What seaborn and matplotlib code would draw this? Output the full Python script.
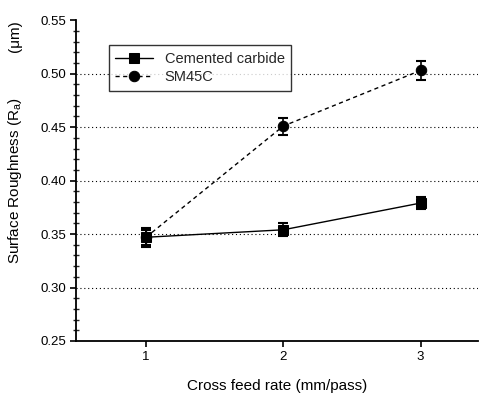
import matplotlib
matplotlib.use("Agg")
import matplotlib.pyplot as plt
import seaborn as sns
import pandas as pd
from matplotlib.ticker import MultipleLocator

sns.set_theme(style="white")
plt.rcParams['font.family'] = ['Liberation Sans', 'DejaVu Sans']
plt.rcParams['mathtext.default'] = 'regular'

feed_rate = [1, 2, 3]
carbide = [0.347, 0.354, 0.379]
carbide_err = [0.007, 0.006, 0.006]
sm45c = [0.347, 0.451, 0.503]
sm45c_err = [0.009, 0.008, 0.009]
series_names = ["Cemented carbide", "SM45C"]

df = pd.DataFrame({
    "feed": feed_rate * 2,
    "Ra": carbide + sm45c,
    "err": carbide_err + sm45c_err,
    "material": [series_names[0]] * 3 + [series_names[1]] * 3,
})

fig = plt.figure(figsize=(4.88, 3.96), dpi=100)
ax = fig.add_axes([0.1557, 0.1389, 0.8243, 0.8101])

sns.lineplot(data=df, x="feed", y="Ra", hue="material", style="material",
             markers={series_names[0]: "s", series_names[1]: "o"},
             dashes={series_names[0]: "", series_names[1]: (3, 2.5)},
             palette={series_names[0]: "black", series_names[1]: "black"},
             markersize=7.5, linewidth=1.0, ax=ax, markeredgecolor="black")
for name in series_names:
    sub = df[df.material == name]
    ax.errorbar(sub.feed, sub.Ra, yerr=sub.err, fmt="none", ecolor="black",
                elinewidth=1.2, capsize=3.5, capthick=1.5, zorder=5)

ax.set_xlim(0.49, 3.42)
ax.set_ylim(0.25, 0.55)
ax.set_xticks(feed_rate)
ax.set_xticklabels(["1", "2", "3"])
ax.yaxis.set_minor_locator(MultipleLocator(0.01))
ax.set_yticks([0.25, 0.30, 0.35, 0.40, 0.45, 0.50, 0.55])
ax.set_yticklabels(["0.25", "0.30", "0.35", "0.40", "0.45", "0.50", "0.55"])
ax.tick_params(axis="both", which="major", direction="out", length=4, width=1.2,
               labelsize=9.5, colors="black", left=True, bottom=True, pad=3)
ax.tick_params(axis="y", which="minor", direction="inout", length=4, width=1.0, left=True)

for y in [0.30, 0.35, 0.40, 0.45, 0.50]:
    ax.axhline(y, color="black", linestyle=(0, (1, 2.5)), linewidth=0.8, zorder=0)

for s in ["top", "right"]:
    ax.spines[s].set_visible(False)
for s in ["left", "bottom"]:
    ax.spines[s].set_color("black")
    ax.spines[s].set_linewidth(1.3)

ax.set_xlabel("Cross feed rate (mm/pass)", fontsize=11, color="black", labelpad=12)
ax.set_ylabel("")
fig.text(0.03, 0.545, "Surface Roughness (R$_{a}$)", rotation=90, fontsize=11,
         color="black", ha="center", va="center")
fig.text(0.03, 0.91, "(\u03bcm)", rotation=90, fontsize=11, color="black",
         ha="center", va="center")

leg = ax.legend(loc="upper left", bbox_to_anchor=(0.063, 0.945), frameon=True,
                fontsize=10.5, handlelength=2.6, borderpad=0.45, labelspacing=0.3,
                fancybox=False)
leg.get_frame().set_edgecolor("black")
leg.get_frame().set_linewidth(1.0)
leg.set_title(None)

fig.savefig("out.png", dpi=100)
